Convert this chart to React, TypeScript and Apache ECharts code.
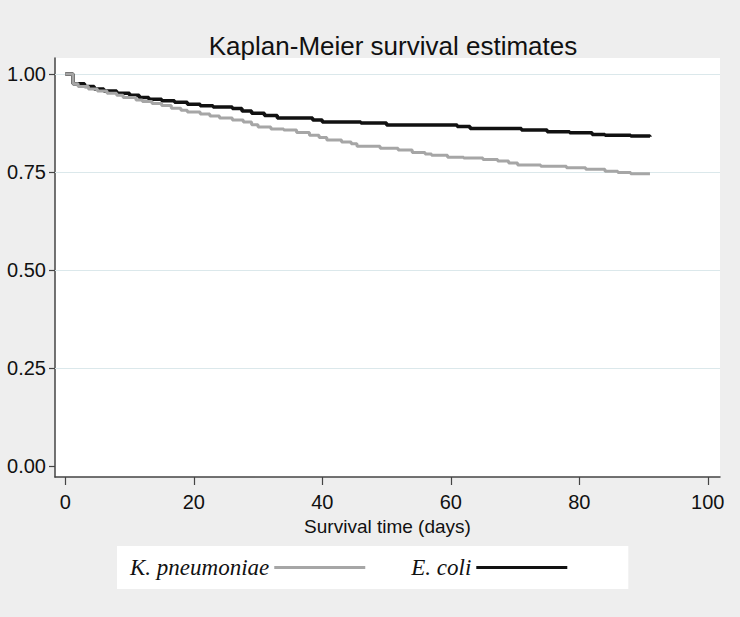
import React, { useEffect, useRef } from "react";
import * as echarts from "echarts";

const title = "Kaplan-Meier survival estimates";
const xAxisName = "Survival time (days)";
const xTicks = [0, 20, 40, 60, 80, 100];
const yTicks = [0, 0.25, 0.5, 0.75, 1];
const gridLines = [0.25, 0.5, 0.75, 1];

const kpTimes = [0, 1.2, 2, 3.6, 5, 6.5, 8, 9, 11, 12, 13.5, 15, 16.5, 18, 19, 21, 22.5, 24, 26, 27.7, 29, 30, 32, 34, 36, 38, 39.5, 40.7, 43, 44.5, 45.4, 49, 51.8, 54, 56, 57, 59.5, 62, 65, 67.3, 69, 70.4, 74, 78, 81, 84, 86, 88, 91];
const kpSurv = [1.0, 0.975, 0.968, 0.962, 0.957, 0.951, 0.946, 0.94, 0.934, 0.93, 0.925, 0.92, 0.913, 0.908, 0.903, 0.898, 0.893, 0.888, 0.883, 0.878, 0.871, 0.865, 0.86, 0.857, 0.851, 0.844, 0.838, 0.832, 0.827, 0.822, 0.816, 0.811, 0.806, 0.8, 0.796, 0.793, 0.788, 0.786, 0.782, 0.778, 0.773, 0.768, 0.765, 0.761, 0.757, 0.752, 0.749, 0.746, 0.745];

const ecTimes = [0, 1.2, 3, 4.5, 6, 8, 10, 11.5, 13, 15, 17, 19, 21, 23, 26, 27.5, 29, 31, 33, 38.5, 40, 46, 50, 61, 63, 71, 75, 78.5, 82, 84, 88, 91];
const ecSurv = [1.0, 0.975, 0.968, 0.962, 0.957, 0.951, 0.946, 0.94, 0.936, 0.932, 0.928, 0.923, 0.919, 0.916, 0.912, 0.906, 0.9, 0.894, 0.888, 0.883, 0.878, 0.875, 0.87, 0.866, 0.861, 0.857, 0.853, 0.85, 0.846, 0.844, 0.842, 0.84];

const seriesNames = ["K. pneumoniae", "E. coli"];

export default function App() {
  const ref = useRef<HTMLDivElement>(null);
  useEffect(() => {
    document.body.style.margin = "0";
    const chart = echarts.init(ref.current!, null, { renderer: "svg" });
    const font = "'Liberation Sans', Arial, sans-serif";
    chart.setOption({
      animation: false,
      backgroundColor: "#eeeeee",
      title: {
        text: title,
        left: 388,
        textAlign: "center",
        top: 28,
        textStyle: { fontFamily: font, fontSize: 26, fontWeight: "normal", color: "#111" },
      },
      grid: {
        left: 55,
        right: 20,
        top: 58,
        bottom: 140,
        show: true,
        backgroundColor: "#ffffff",
        borderWidth: 0,
      },
      legend: {
        left: 117,
        top: 546,
        padding: [10, 61, 10, 13],
        backgroundColor: "#ffffff",
        align: "right",
        itemGap: 46,
        itemWidth: 91,
        itemHeight: 3,
        icon: "rect",
        textStyle: { fontFamily: "'Liberation Serif', 'Times New Roman', serif", fontStyle: "italic", fontSize: 23, color: "#111" },
        data: seriesNames,
      },
      xAxis: {
        type: "value",
        min: -1.6,
        max: 101.9,
        name: xAxisName,
        nameLocation: "middle",
        nameGap: 31,
        nameTextStyle: { fontFamily: font, fontSize: 19, color: "#111" },
        axisLine: { show: true, onZero: false, lineStyle: { color: "#444", width: 1.5 } },
        axisTick: { show: true, customValues: xTicks, length: 8, lineStyle: { color: "#444", width: 1.2 } },
        axisLabel: { customValues: xTicks, fontFamily: font, fontSize: 20, color: "#111", margin: 15 },
        splitLine: { show: false },
      },
      yAxis: {
        type: "value",
        min: -0.028,
        max: 1.041,
        axisLine: { show: true, onZero: false, lineStyle: { color: "#444", width: 1.5 } },
        axisTick: { show: true, customValues: yTicks, length: 6, lineStyle: { color: "#444", width: 1.2 } },
        axisLabel: {
          customValues: yTicks,
          fontFamily: font,
          fontSize: 20,
          color: "#111",
          margin: 9,
          formatter: (v: number) => v.toFixed(2),
        },
        splitLine: { show: false },
      },
      series: [
        {
          name: seriesNames[0],
          type: "line",
          step: "end",
          symbol: "none",
          color: "#a6a6a6",
          lineStyle: { width: 3, color: "#a6a6a6" },
          data: kpTimes.map((t, i) => [t, kpSurv[i]]),
          z: 3,
          markLine: {
            silent: true,
            symbol: "none",
            label: { show: false },
            lineStyle: { color: "#dbe8eb", width: 1.2, type: "solid" },
            data: gridLines.map((v) => ({ yAxis: v })),
            z: 1,
          },
        },
        {
          name: seriesNames[1],
          type: "line",
          step: "end",
          symbol: "none",
          color: "#111111",
          lineStyle: { width: 3.5, color: "#111111" },
          data: ecTimes.map((t, i) => [t, ecSurv[i]]),
          z: 2,
        },
      ],
    });
    return () => chart.dispose();
  }, []);
  return <div ref={ref} style={{ position: "fixed", left: 0, top: 0, width: 740, height: 617 }} />;
}
